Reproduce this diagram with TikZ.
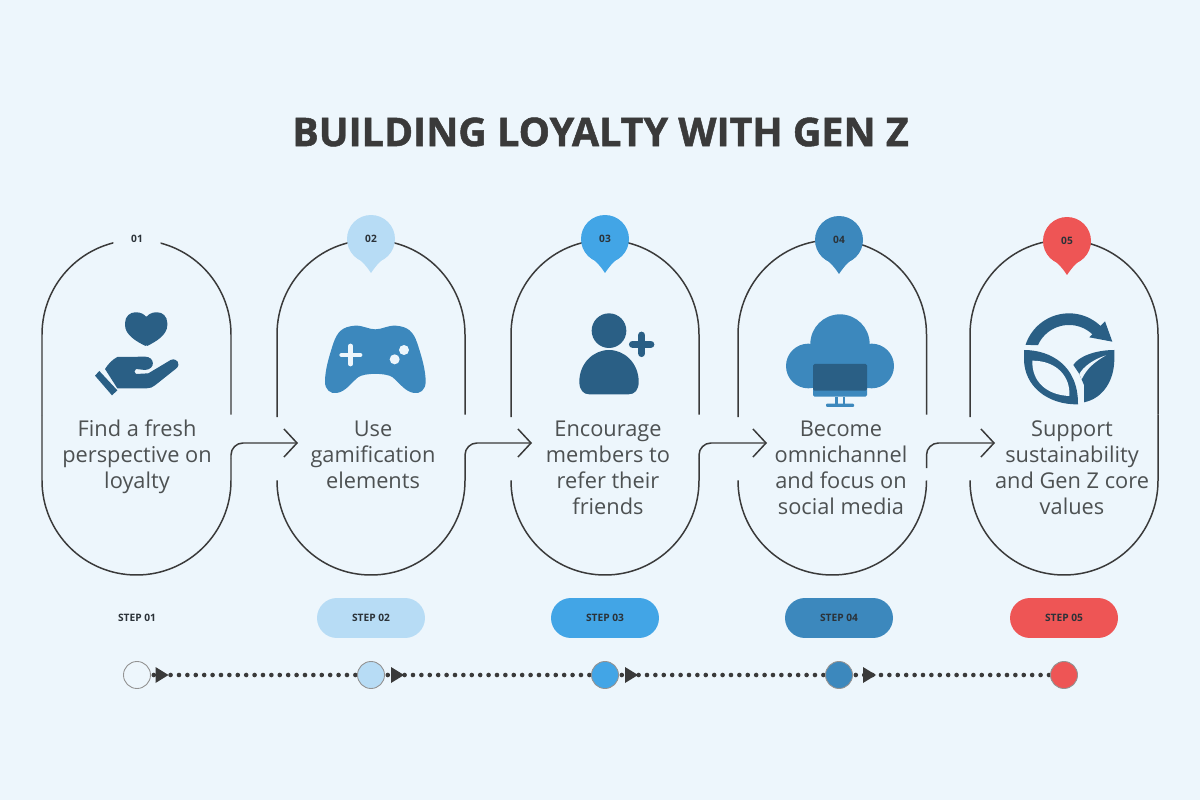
\documentclass[tikz,border=0pt]{standalone}
\usepackage{fontspec}
\setmainfont{Open Sans}
\newfontfamily\titlefont{Open Sans}[BoldFeatures={FakeBold=1.2}]
\usetikzlibrary{arrows.meta}
\definecolor{bgc}{HTML}{EDF6FC}
\definecolor{inkc}{HTML}{3A3A3A}
\definecolor{bodyc}{HTML}{4D5152}
\definecolor{lightb}{HTML}{B7DCF5}
\definecolor{midb}{HTML}{42A5E6}
\definecolor{steelb}{HTML}{3C88BD}
\definecolor{darkb}{HTML}{2A5F85}
\definecolor{redc}{HTML}{EE5555}
\definecolor{numc}{HTML}{2B3238}
\tikzset{
  x=0.02cm,y=-0.02cm,
  outline/.style={draw=inkc,line width=0.85pt},
  flow/.style={outline,rounded corners=0.24cm,-{Straight Barb[length=0.26cm,width=0.56cm,line width=0.85pt]}},
  pinball/.style={circle,minimum size=0.96cm,inner sep=0pt,text=numc,font=\bfseries\fontsize{5.8}{7}\selectfont},
  steplabel/.style={rounded corners=0.4cm,minimum width=2.16cm,minimum height=0.8cm,inner sep=0pt,text=numc,font=\bfseries\fontsize{5.8}{7}\selectfont},
  bodytext/.style={align=center,text=bodyc,font=\fontsize{12.4}{14.8}\selectfont,inner sep=0pt},
  dot/.style={circle,minimum size=0.54cm,inner sep=0pt,draw=gray!85,line width=0.5pt},
  dots/.style={draw=inkc,line width=0.092cm,line cap=round,dash pattern=on 0pt off 0.168cm},
  tri/.style={fill=inkc},
  zoomA/.style={shift={(30,210)},scale=1/3},
  zoomB/.style={shift={(500,210)},scale=1/3},
  zoomC/.style={shift={(950,210)},scale=1/3},
}
% upper part of a round-ended panel: left x, right x, lower end of left side
\newcommand{\panelTop}[3]{%
  \draw[outline] (#1,#3) -- (#1,334.5)
    .. controls (#1,282.3) and ({(#1+#2)/2-52.2},240) .. ({(#1+#2)/2},240)
    .. controls ({(#1+#2)/2+52.2},240) and (#2,282.3) .. (#2,334.5) -- (#2,414.5);}
% lower part: left x, right x, upper end of left side, upper end of right side
\newcommand{\panelBot}[4]{%
  \draw[outline] (#1,#3) -- (#1,480.5)
    .. controls (#1,532.7) and ({(#1+#2)/2-52.2},575) .. ({(#1+#2)/2},575)
    .. controls ({(#1+#2)/2+52.2},575) and (#2,532.7) .. (#2,480.5) -- (#2,#4);}
\newcommand{\pinTip}[3]{%
  \fill[#3] (#1-12,#2+20) .. controls (#1-9,#2+23) and (#1-6,#2+25) .. (#1,#2+34)
     .. controls (#1+6,#2+25) and (#1+9,#2+23) .. (#1+12,#2+20) -- cycle;}
\begin{document}
\begin{tikzpicture}
\useasboundingbox (0,0) rectangle (1200,800);
\fill[bgc] (0,0) rectangle (1200,800);

\node[font=\titlefont\bfseries\fontsize{22.46}{26}\selectfont,text=inkc,inner sep=0pt] (title) at (600.5,132) {BUILDING LOYALTY WITH GEN Z};

% panels
\panelTop{42}{231}{415}
\panelBot{42}{231}{415}{458}
\panelTop{277}{465}{417}
\panelBot{277}{465}{481}{458}
\panelTop{511}{699}{417}
\panelBot{511}{699}{481}{458}
\panelTop{738}{926.5}{417}
\panelBot{738}{926.5}{481}{480.5}
\panelTop{970}{1158}{417}
\panelBot{970}{1158}{481}{414.5}

% flow arrows
\coordinate (a1s) at (231,458); \coordinate (a1e) at (298,443);
\coordinate (a2s) at (465,458); \coordinate (a2e) at (532,443);
\coordinate (a3s) at (699,458); \coordinate (a3e) at (767,443);
\coordinate (a4s) at (926.5,468); \coordinate (a4e) at (995,443);
\draw[flow] (a1s) |- (a1e);
\draw[flow] (a2s) |- (a2e);
\draw[flow] (a3s) |- (a3e);
\draw[flow] (a4s) |- (a4e);

% pins
\node[pinball,fill=bgc] (n1) at (137,239) {01};
\pinTip{371}{239}{lightb}
\node[pinball,fill=lightb] (n2) at (371,239) {02};
\pinTip{605}{239}{midb}
\node[pinball,fill=midb] (n3) at (605,239) {03};
\pinTip{839}{240}{steelb}
\node[pinball,fill=steelb] (n4) at (839,240) {04};
\pinTip{1067}{241}{redc}
\node[pinball,fill=redc] (n5) at (1067,241) {05};

% body text
\node[bodytext] (t1) at (137,456.5) {Find a fresh\\perspective on\\loyalty};
\node[bodytext] (t2) at (373,455) {Use\\gamification\\elements};
\node[bodytext] (t3) at (608,468) {Encourage\\members to\\refer their\\friends};
\node[bodytext] (t4) at (841,468) {Become\\omnichannel\\and focus on\\social media};
\node[bodytext] (t5) at (1072,468) {Support\\sustainability\\and Gen Z core\\values};

% step labels
\node[steplabel] (s1) at (137,618) {STEP 01};
\node[steplabel,fill=lightb] (s2) at (371,618) {STEP 02};
\node[steplabel,fill=midb] (s3) at (605,618) {STEP 03};
\node[steplabel,fill=steelb] (s4) at (839,618) {STEP 04};
\node[steplabel,fill=redc] (s5) at (1064,618) {STEP 05};

% timeline
\coordinate (c1) at (137,675);
\coordinate (c2) at (371,675);
\coordinate (c3) at (605,675);
\coordinate (c4) at (839,675);
\coordinate (c5) at (1064,675);
\draw[dots] (c1) -- (c2);
\draw[dots] (c2) -- (c3);
\draw[dots] (c3) -- (c4);
\draw[dots] (c4) -- (c5);
\node[dot,fill=bgc] (d1) at (c1) {};
\node[dot,fill=lightb] (d2) at (c2) {};
\node[dot,fill=midb] (d3) at (c3) {};
\node[dot,fill=steelb] (d4) at (c4) {};
\node[dot,fill=redc] (d5) at (c5) {};
\fill[tri] (155.5,667) -- (168.5,675) -- (155.5,683) -- cycle;
\fill[tri] (391,667) -- (404,675) -- (391,683) -- cycle;
\fill[tri] (625,667) -- (638,675) -- (625,683) -- cycle;
\fill[tri] (863,667) -- (876,675) -- (863,683) -- cycle;

% heart in hand
\begin{scope}[zoomA]
\fill[darkb,rounded corners=0.02cm] (349,409) .. controls (320,395) and (285,375) .. (285,342)
  .. controls (285,318) and (302,307) .. (318,307)
  .. controls (332,307) and (344,314) .. (349,322)
  .. controls (354,314) and (366,307) .. (380,307)
  .. controls (396,307) and (412,318) .. (412,342)
  .. controls (412,375) and (378,395) .. (349,409) -- cycle;
\fill[darkb] (225,477) .. controls (235,462) and (245,450) .. (262,441)
  -- (345,440) .. controls (375,440) and (378,478) .. (345,480)
  -- (318,477) .. controls (312,480) and (312,490) .. (318,492)
  -- (355,490) -- (422,450) .. controls (440,442) and (455,462) .. (438,476)
  -- (375,526) .. controls (368,532) and (360,535) .. (350,535)
  -- (262,535) -- cycle;
\fill[darkb] (208,483) -- (262,541) -- (246,556) -- (195,497) -- cycle;
% gamepad
\fill[steelb] (975,347) .. controls (1000,346) and (1015,358) .. (1036,358)
  .. controls (1057,358) and (1072,346) .. (1097,347)
  .. controls (1135,350) and (1150,365) .. (1162,400)
  .. controls (1175,440) and (1187,480) .. (1187,515)
  .. controls (1187,540) and (1170,552) .. (1152,549)
  .. controls (1125,545) and (1110,520) .. (1088,502)
  .. controls (1070,488) and (1002,488) .. (984,502)
  .. controls (962,520) and (947,545) .. (920,549)
  .. controls (902,552) and (885,540) .. (885,515)
  .. controls (885,480) and (897,440) .. (910,400)
  .. controls (922,365) and (937,350) .. (975,347) -- cycle;
\draw[bgc,line width=0.095cm,line cap=round] (935,435) -- (990,435);
\draw[bgc,line width=0.095cm,line cap=round] (962,408) -- (962,462);
\fill[bgc] (1122,420) circle[radius=15];
\fill[bgc] (1094,448) circle[radius=15];
\end{scope}

% person with plus
\begin{scope}[zoomB]
\fill[darkb] (327,362) circle[radius=52];
\fill[darkb] (238,515) .. controls (238,460) and (280,420) .. (327,420)
  .. controls (374,420) and (416,460) .. (416,515)
  .. controls (416,540) and (405,553) .. (385,553)
  -- (268,553) .. controls (250,553) and (238,540) .. (238,515) -- cycle;
\draw[darkb,line width=0.15cm,line cap=round] (398,403) -- (452,403);
\draw[darkb,line width=0.15cm,line cap=round] (425,376) -- (425,430);
% cloud with monitor
\fill[steelb] (1020,402) circle[radius=89];
\fill[steelb] (925,468) circle[radius=67];
\fill[steelb] (1115,468) circle[radius=67];
\fill[steelb] (925,440) rectangle (1115,535);
\fill[steelb,rounded corners=0.03cm] (939,462) rectangle (1101,560);
\fill[darkb,rounded corners=0.03cm] (939,462) -- (1101,462) -- (1101,542) -- (939,542) -- cycle;
\fill[steelb] (1006,560) rectangle (1013,583);
\fill[steelb] (1029,560) rectangle (1036,583);
\fill[steelb,rounded corners=0.02cm] (978,581) rectangle (1062,591);
\end{scope}

% leaves with circular arrow
\begin{scope}[zoomC]
\fill[darkb] plot[domain=162:45,samples=40] ({357+137*cos(\x)},{447-137*sin(\x)})
  -- plot[domain=45:156,samples=40] ({357+102*cos(\x)},{447-102*sin(\x)}) -- cycle;
\fill[darkb] (465,334) -- (487,395) -- (418,382) -- cycle;
% left leaf
\fill[darkb] (222,420) .. controls (300,420) and (385,465) .. (384,583)
  .. controls (295,585) and (222,530) .. (222,447) -- cycle;
\fill[bgc] (247,452) .. controls (320,452) and (362,500) .. (358,558)
  .. controls (290,555) and (245,515) .. (247,452) -- cycle;
% right leaf
\fill[darkb] (493,420) .. controls (435,420) and (385,440) .. (370,465)
  -- (388,492) -- (402,525) -- (402,577)
  .. controls (460,565) and (493,510) .. (493,447) -- cycle;
\fill[bgc] (388,492) .. controls (400,470) and (430,448) .. (468,436)
  .. controls (435,455) and (410,475) .. (395,508) -- cycle;
\end{scope}
\end{tikzpicture}
\end{document}
